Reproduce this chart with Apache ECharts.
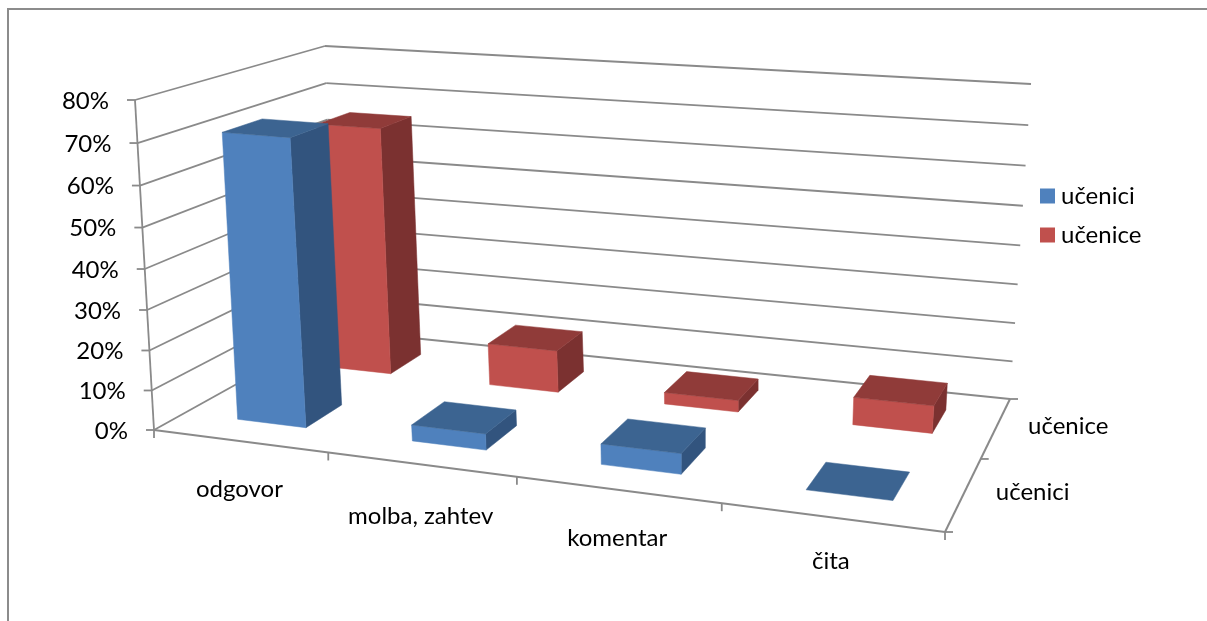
<!DOCTYPE html>
<html><head><meta charset="utf-8">
<style>html,body{margin:0;padding:0;background:#fff}#c{width:1207px;height:621px}</style>
<script src="https://cdn.jsdelivr.net/npm/echarts@6/dist/echarts.min.js"></script>
</head><body><div id="c"></div>
<script>
const categories = ['odgovor', 'molba, zahtev', 'komentar', 'čita'];
const depthNames = ['učenici', 'učenice'];
const valueTicks = [0, 10, 20, 30, 40, 50, 60, 70, 80];
const uceniciValues = [71, 4, 5, 0];
const uceniceValues = [65, 11, 3, 7];

const FONT = 'Lato';
const FS = 24;
const AXIS = '#8a8a8a';
// Projection box corners in pixels: [front-left, front-right, back-right, back-left]
const FLOOR = [[154,430],[945,532],[1010,399],[334,330]];
const TOP   = [[135,100],[990,166],[1031,84],[325,46]];
const BLUE = ['#4F81BD', '#3C6491', '#32547E'];
const RED  = ['#C0504D', '#903B39', '#7B3130'];
const catLabelDy = [48, 52, 49, 44];

function homography(q){
  const [p0,p1,p2,p3]=q;
  const dx1=p1[0]-p2[0],dx2=p3[0]-p2[0],sx=p0[0]-p1[0]+p2[0]-p3[0];
  const dy1=p1[1]-p2[1],dy2=p3[1]-p2[1],sy=p0[1]-p1[1]+p2[1]-p3[1];
  const den=dx1*dy2-dx2*dy1;
  const g=(sx*dy2-dx2*sy)/den,h=(dx1*sy-sx*dy1)/den;
  const a=p1[0]-p0[0]+g*p1[0],b=p3[0]-p0[0]+h*p3[0],c=p0[0];
  const d=p1[1]-p0[1]+g*p1[1],e=p3[1]-p0[1]+h*p3[1],f=p0[1];
  return (u,v)=>{const w=g*u+h*v+1;return [(a*u+b*v+c)/w,(d*u+e*v+f)/w];};
}
const floorH=homography(FLOOR), topH=homography(TOP);
function project(u,v,w){
  const k=1.05, t=w<=0?0:w/(w+(1-w)*k);
  const a=floorH(u,v), b=topH(u,v);
  return [a[0]+(b[0]-a[0])*t, a[1]+(b[1]-a[1])*t];
}
// Normalised position on the library's own (hidden) scales
function unitX(api,params,cat){const s=params.coordSys;return (api.coord([cat,0])[0]-s.x)/s.width;}
function unitY(api,params,cat,val){const s=params.coordSys;return (s.y+s.height-api.coord([cat,val])[1])/s.height;}

const BAR_FILL=0.4, BAR_SHIFT=0.004;
function barRenderer(row,colors){
  return function(params,api){
    const cat=api.value(0), val=api.value(1);
    const uc=unitX(api,params,cat)+BAR_SHIFT, bandU=1/categories.length, bandV=1/depthNames.length;
    const u0=uc-bandU*BAR_FILL/2,u1=uc+bandU*BAR_FILL/2;
    const vc=(row+.5)*bandV, v0=vc-bandV*BAR_FILL/2, v1=vc+bandV*BAR_FILL/2;
    const w=unitY(api,params,cat,val);
    const face=(pts,c)=>({type:'polygon',shape:{points:pts},style:{fill:c,stroke:c,lineWidth:.5}});
    const ch=[];
    if(val>0){
      ch.push(face([project(u1,v0,0),project(u1,v1,0),project(u1,v1,w),project(u1,v0,w)],colors[2]));
      ch.push(face([project(u0,v0,0),project(u1,v0,0),project(u1,v0,w),project(u0,v0,w)],colors[0]));
    }
    ch.push(face([project(u0,v0,w),project(u1,v0,w),project(u1,v1,w),project(u0,v1,w)],colors[1]));
    return {type:'group',children:ch};
  };
}
const line=(a,b,lw)=>({type:'line',shape:{x1:a[0],y1:a[1],x2:b[0],y2:b[1]},style:{stroke:AXIS,lineWidth:lw||1.8}});
const text=(str,x,y,align)=>({type:'text',style:{text:str,x:x,y:y,align:align,verticalAlign:'middle',fill:'#000',font:FS+'px '+FONT}});

function gridRenderer(params,api){
  const val=api.value(1), w=unitY(api,params,0,val);
  const fl=project(0,0,w), bl=project(0,1,w), br=project(1,1,w);
  return {type:'group',children:[
    line(fl,bl), line(bl,br),
    line([fl[0]-8,fl[1]],fl),
    text(val+'%',fl[0]-26,fl[1]+1,'right')
  ]};
}
function frameAxesRenderer(params,api){
  const ch=[];
  ch.push(line(project(0,0,0),project(0,0,1)));
  ch.push(line(project(0,0,0),project(1,0,0),2));
  ch.push(line(project(1,0,0),project(1,1,0),2));
  for(let i=0;i<=categories.length;i++){
    const p=project(i/categories.length,0,0);
    ch.push(line(p,[p[0],p[1]+8]));
  }
  for(let j=0;j<=depthNames.length;j++){
    const p=project(1,j/depthNames.length,0);
    ch.push(line(p,[p[0]+8,p[1]]));
  }
  return {type:'group',children:ch};
}
function catLabelRenderer(params,api){
  const i=api.value(0), p=project(unitX(api,params,i),0,0);
  return text(categories[i],p[0],p[1]+catLabelDy[i],'center');
}
function depthLabelRenderer(params,api){
  const j=params.dataIndex, p=project(1,(j+.5)/depthNames.length,0);
  return text(depthNames[j],p[0]+32,p[1]-1,'left');
}
const base={type:'custom',coordinateSystem:'cartesian2d',silent:true,animation:false,clip:false,encode:{x:0,y:1}};

const chart=echarts.init(document.getElementById('c'),null,{renderer:'canvas'});
chart.setOption({
  animation:false,
  backgroundColor:'#fff',
  grid:{left:0,right:0,top:0,bottom:0},
  xAxis:{type:'category',data:categories,show:false},
  yAxis:{type:'value',min:0,max:80,interval:10,show:false},
  legend:{
    orient:'vertical',left:1040,top:184,padding:0,itemWidth:15,itemHeight:15,itemGap:15,
    icon:'rect',data:depthNames,selectedMode:false,
    textStyle:{fontFamily:FONT,fontSize:FS,color:'#000',padding:[0,0,0,1]}
  },
  graphic:[
    {type:'polyline',silent:true,shape:{points:[[8,621],[8,9],[1207,9]]},style:{stroke:'#8c8c8c',lineWidth:2,fill:'none'}}
  ],
  series:[
    Object.assign({},base,{name:'grid',z:1,data:valueTicks.map(v=>[0,v]),renderItem:gridRenderer}),
    Object.assign({},base,{name:'axes',z:1,data:[[0,0]],renderItem:frameAxesRenderer}),
    Object.assign({},base,{name:'catLabels',z:5,data:categories.map((c,i)=>[i,0]),renderItem:catLabelRenderer}),
    Object.assign({},base,{name:'depthLabels',z:5,data:depthNames.map(()=>[0,0]),renderItem:depthLabelRenderer}),
    Object.assign({},base,{name:depthNames[1],z:2,itemStyle:{color:RED[0]},data:uceniceValues.map((v,i)=>[i,v]),renderItem:barRenderer(1,RED)}),
    Object.assign({},base,{name:depthNames[0],z:3,itemStyle:{color:BLUE[0]},data:uceniciValues.map((v,i)=>[i,v]),renderItem:barRenderer(0,BLUE)})
  ]
});
</script></body></html>
